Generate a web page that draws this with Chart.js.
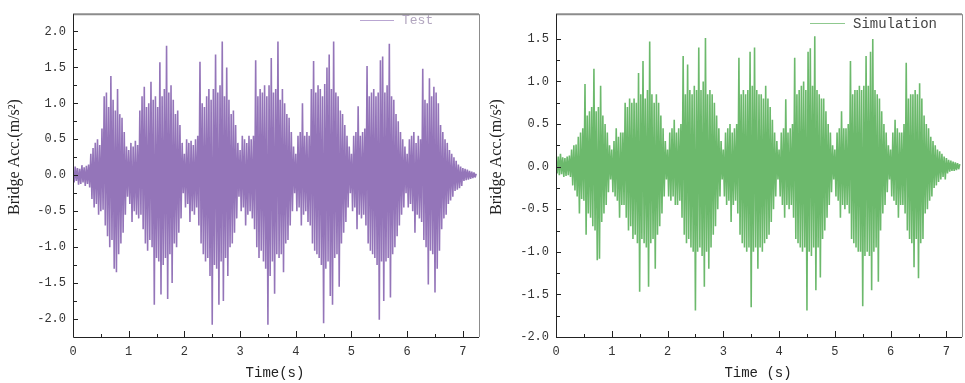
<!DOCTYPE html>
<html>
<head>
<meta charset="utf-8">
<script src="https://cdn.jsdelivr.net/npm/chart.js@4"></script>
<style>
    html, body { margin: 0; padding: 0; background: #fff; }
    #wrap { position: relative; width: 965px; height: 383px; overflow: hidden; }
    canvas { position: absolute; top: 0; }
</style>
</head>
<body>
<div id="wrap">
    <canvas id="testChart" width="482" height="383" style="left:0px"></canvas>
    <canvas id="simChart" width="483" height="383" style="left:482px"></canvas>
</div>
<script>
// sampling step of both records (s)
const dt = 0.02;

const xTicks = [0, 1, 2, 3, 4, 5, 6, 7];
const yTicksTest = [-2.0, -1.5, -1.0, -0.5, 0.0, 0.5, 1.0, 1.5, 2.0];
const yTicksSim = [-2.0, -1.5, -1.0, -0.5, 0.0, 0.5, 1.0, 1.5];

// measured bridge acceleration, one row = 0.2 s
const testAcc = [
    0.08,-0.10,0.12,-0.08,0.10,-0.13,0.09,-0.12,0.14,-0.10,
    0.11,-0.15,0.13,-0.12,0.15,-0.17,0.30,-0.33,0.38,-0.45,
    0.45,-0.40,0.50,-0.55,0.42,-0.50,0.65,-0.48,1.10,-0.70,
    1.15,-0.85,0.95,-1.00,1.38,-0.90,1.05,-1.30,0.90,-1.35,
    1.20,-1.10,0.85,-0.95,0.80,-0.80,0.60,-0.55,0.40,-0.30,
    0.35,-0.40,0.45,-0.65,0.40,-0.50,0.48,-0.55,0.42,-0.60,
    0.90,-0.55,1.10,-0.75,1.23,-0.95,0.95,-1.05,1.00,-0.90,
    1.30,-1.00,1.05,-1.80,1.10,-1.15,0.95,-1.20,1.57,-1.66,
    1.10,-1.25,1.20,-1.15,1.80,-1.72,1.15,-1.10,1.25,-1.50,
    1.05,-0.95,0.85,-1.00,0.90,-0.80,0.70,-0.60,0.45,-0.25,
    0.30,-0.45,0.50,-0.40,0.45,-0.65,0.48,-0.50,0.42,-0.55,
    0.50,-0.45,0.55,-0.70,1.58,-0.95,1.00,-1.10,0.95,-1.20,
    1.10,-1.15,1.20,-1.40,1.05,-2.08,1.20,-1.25,1.68,-1.30,
    1.15,-1.80,1.25,-1.20,1.86,-1.75,1.10,-1.15,1.50,-1.40,
    1.05,-1.00,0.85,-0.95,0.90,-0.80,0.70,-0.60,0.45,-0.30,
    0.35,-0.50,0.55,-0.45,0.50,-0.70,0.45,-0.55,0.55,-0.50,
    0.50,-0.60,0.55,-0.75,1.60,-1.00,1.10,-1.15,1.20,-1.05,
    1.15,-1.20,1.25,-1.30,1.10,-2.08,1.25,-1.40,1.63,-1.20,
    1.15,-1.65,1.20,-1.10,1.86,-1.15,1.05,-1.10,1.20,-1.35,
    1.00,-0.95,0.85,-0.90,0.80,-0.70,0.60,-0.50,0.40,-0.25,
    0.30,-0.50,0.55,-0.45,0.60,-0.70,1.00,-0.55,0.55,-0.50,
    0.60,-0.65,0.55,-0.70,1.20,-0.95,1.59,-1.05,1.15,-1.10,
    1.25,-1.15,1.20,-1.25,1.10,-2.06,1.27,-1.30,1.50,-1.20,
    1.68,-1.68,1.20,-1.80,1.86,-1.15,1.15,-1.10,1.10,-1.55,
    0.90,-0.95,0.85,-0.80,0.70,-0.65,0.55,-0.45,0.40,-0.25,
    0.30,-0.50,0.55,-0.45,0.60,-0.75,0.96,-0.55,0.55,-0.60,
    0.60,-0.55,0.65,-0.70,1.52,-0.95,1.10,-1.05,1.15,-1.10,
    1.20,-1.15,1.10,-1.25,1.15,-2.01,1.60,-1.20,1.65,-1.75,
    1.15,-1.20,1.25,-1.15,1.83,-1.70,1.10,-1.10,1.05,-1.00,
    0.85,-0.85,0.75,-0.70,0.60,-0.55,0.50,-0.45,0.40,-0.25,
    0.30,-0.45,0.50,-0.40,0.55,-0.50,0.60,-0.80,0.45,-0.55,
    0.55,-0.60,0.50,-0.65,1.48,-0.90,1.05,-1.00,1.00,-1.52,
    1.35,-1.05,1.10,-1.10,1.23,-1.63,1.15,-1.30,1.00,-1.05,
    0.70,-0.75,0.60,-0.60,0.50,-0.55,0.45,-0.40,0.35,-0.35,
    0.30,-0.30,0.25,-0.22,0.20,-0.20,0.15,-0.18,0.12,-0.15,
    0.10,-0.08,0.09,-0.07,0.08,-0.06,0.06,-0.05,0.05,-0.04,
    0.04,-0.03,0.02
];

// simulated bridge acceleration, one row = 0.2 s
const simAcc = [
    0.10,-0.08,0.12,-0.10,0.15,-0.09,0.11,-0.12,0.10,-0.11,
    0.12,-0.10,0.13,-0.12,0.20,-0.22,0.25,-0.28,0.26,-0.35,
    0.35,-0.55,0.40,-0.38,0.45,-0.40,0.97,-0.80,0.60,-0.55,
    0.65,-0.60,0.70,-0.70,1.15,-0.75,0.65,-1.10,0.70,-1.08,
    0.95,-0.65,0.60,-0.55,0.50,-0.45,0.40,-0.30,0.25,-0.15,
    0.20,-0.30,0.30,-0.35,0.45,-0.40,0.35,-0.60,0.40,-0.45,
    0.40,-0.45,0.75,-0.60,0.70,-0.75,0.80,-0.70,0.75,-0.85,
    0.80,-0.80,0.75,-0.90,1.10,-1.47,0.85,-0.85,1.24,-0.90,
    0.80,-0.95,0.90,-1.41,1.47,-0.90,0.85,-0.85,0.75,-1.20,
    0.85,-0.80,0.75,-0.70,0.60,-0.55,0.45,-0.35,0.30,-0.15,
    0.20,-0.35,0.40,-0.40,0.45,-0.35,0.55,-0.45,0.40,-0.45,
    0.45,-0.40,0.50,-0.60,1.30,-0.80,0.85,-0.90,1.20,-0.85,
    0.90,-0.95,0.85,-1.00,0.95,-1.69,0.90,-1.00,1.40,-0.95,
    0.90,-1.05,1.00,-1.41,1.51,-1.00,0.85,-1.20,0.90,-0.95,
    0.85,-0.80,0.75,-0.70,0.60,-0.50,0.45,-0.35,0.30,-0.15,
    0.20,-0.35,0.40,-0.45,0.45,-0.40,0.50,-0.65,0.40,-0.45,
    0.45,-0.40,0.50,-0.55,1.28,-0.80,0.85,-0.90,0.90,-0.95,
    0.85,-1.00,0.90,-0.95,1.35,-1.65,0.95,-1.00,1.40,-0.95,
    0.90,-1.20,0.85,-0.95,0.85,-1.00,0.80,-0.90,0.95,-0.85,
    0.80,-0.80,0.70,-0.65,0.55,-0.50,0.40,-0.35,0.30,-0.15,
    0.20,-0.35,0.40,-0.45,0.45,-0.60,0.79,-0.45,0.40,-0.50,
    0.45,-0.45,0.50,-0.60,1.28,-0.85,0.85,-0.90,0.90,-0.95,
    0.95,-1.00,1.00,-0.95,0.90,-1.69,1.35,-1.00,1.39,-1.05,
    0.95,-0.95,1.53,-1.45,0.90,-0.95,0.85,-1.30,0.80,-0.85,
    0.80,-0.75,0.65,-0.60,0.50,-0.45,0.40,-0.30,0.25,-0.15,
    0.20,-0.35,0.40,-0.40,0.45,-0.60,0.65,-0.45,0.45,-0.50,
    0.45,-0.45,0.50,-0.55,1.24,-0.85,0.85,-0.90,0.90,-0.95,
    0.90,-1.00,0.95,-1.00,0.90,-1.64,0.95,-1.05,1.30,-1.00,
    0.95,-1.05,1.35,-1.45,1.50,-1.00,0.90,-0.95,0.85,-1.35,
    0.80,-0.75,0.65,-0.55,0.50,-0.45,0.40,-0.30,0.25,-0.15,
    0.20,-0.35,0.40,-0.40,0.55,-0.45,0.45,-0.60,0.40,-0.45,
    0.40,-0.45,0.50,-0.55,1.22,-0.75,0.80,-0.85,0.85,-0.90,
    0.85,-1.18,0.90,-0.85,0.85,-1.31,0.98,-0.90,0.80,-0.85,
    0.60,-0.55,0.50,-0.50,0.45,-0.40,0.35,-0.35,0.30,-0.25,
    0.25,-0.22,0.20,-0.18,0.18,-0.15,0.15,-0.12,0.12,-0.15,
    0.10,-0.08,0.08,-0.06,0.07,-0.05,0.06,-0.05,0.05,-0.04,
    0.04,-0.03,0.03
];

const monoFont = "'Liberation Mono', 'DejaVu Sans Mono', monospace";
const serifFont = "'Liberation Serif', 'DejaVu Serif', serif";

function midpoints(arr) {
    const out = [];
    for (let i = 1; i < arr.length; i++) out.push((arr[i - 1] + arr[i]) / 2);
    return out;
}

// frame, inward ticks, axis titles and legend
const decor = {
    id: "decor",
    afterDraw(chart, args, o) {
        const { ctx, chartArea: a, scales } = chart;
        const x = scales.x;
        const y = scales.y;
        ctx.save();

        ctx.strokeStyle = "#8c8c8c";
        ctx.lineWidth = 2;
        ctx.beginPath();
        ctx.moveTo(a.left, a.top);
        ctx.lineTo(a.right, a.top);
        ctx.stroke();
        ctx.lineWidth = 1;
        ctx.beginPath();
        ctx.moveTo(a.right + 0.5, a.top);
        ctx.lineTo(a.right + 0.5, a.bottom);
        ctx.stroke();

        ctx.strokeStyle = "#222";
        ctx.lineWidth = 1;
        ctx.beginPath();
        ctx.moveTo(a.left + 0.5, a.top);
        ctx.lineTo(a.left + 0.5, a.bottom + 0.5);
        ctx.lineTo(a.right, a.bottom + 0.5);
        ctx.stroke();

        ctx.beginPath();
        xTicks.forEach((v) => {
            const px = Math.round(x.getPixelForValue(v)) + 0.5;
            ctx.moveTo(px, a.bottom);
            ctx.lineTo(px, a.bottom - 6);
        });
        midpoints(xTicks).forEach((v) => {
            const px = Math.round(x.getPixelForValue(v)) + 0.5;
            ctx.moveTo(px, a.bottom);
            ctx.lineTo(px, a.bottom - 3);
        });
        o.yTicks.forEach((v) => {
            const py = Math.round(y.getPixelForValue(v)) + 0.5;
            ctx.moveTo(a.left, py);
            ctx.lineTo(a.left + 5, py);
        });
        midpoints(o.yTicks).forEach((v) => {
            const py = Math.round(y.getPixelForValue(v)) + 0.5;
            ctx.moveTo(a.left, py);
            ctx.lineTo(a.left + 4, py);
        });
        ctx.stroke();

        // axis titles
        ctx.fillStyle = "#222";
        ctx.font = "14px " + monoFont;
        ctx.textAlign = "center";
        ctx.textBaseline = "middle";
        ctx.fillText(o.xTitle, o.xTitleX, 373);

        ctx.save();
        ctx.translate(15, 157);
        ctx.rotate(-Math.PI / 2);
        ctx.font = "16px " + serifFont;
        ctx.fillText("Bridge Acc.(m/s\u00B2)", 0, 0);
        ctx.restore();

        // legend
        const lg = o.legend;
        ctx.strokeStyle = lg.lineColor;
        ctx.lineWidth = 1;
        ctx.beginPath();
        ctx.moveTo(lg.x1, lg.y + 0.5);
        ctx.lineTo(lg.x2, lg.y + 0.5);
        ctx.stroke();
        ctx.fillStyle = lg.textColor;
        ctx.font = lg.size + "px " + monoFont;
        ctx.textAlign = "left";
        ctx.fillText(lg.text, lg.x2 + 8, lg.y + 1);

        ctx.restore();
    },
};

function makeChart(canvas, values, cfg) {
    const points = values.map((v, i) => ({ x: i * dt, y: v }));
    return new Chart(canvas, {
        type: "line",
        data: {
            datasets: [
                {
                    label: cfg.legend.text,
                    data: points,
                    borderColor: cfg.color,
                    borderWidth: 1.6,
                    borderJoinStyle: "bevel",
                    pointRadius: 0,
                    tension: 0,
                    fill: false,
                },
            ],
        },
        options: {
            responsive: false,
            animation: false,
            events: [],
            layout: { padding: { top: 5, right: cfg.padRight, left: 0, bottom: 0 } },
            plugins: {
                legend: { display: false },
                tooltip: { enabled: false },
                decor: {
                    yTicks: cfg.yTicks,
                    xTitle: cfg.xTitle,
                    xTitleX: cfg.xTitleX,
                    legend: cfg.legend,
                },
            },
            scales: {
                x: {
                    type: "linear",
                    min: 0,
                    max: cfg.xMax,
                    grid: { display: false, drawTicks: false },
                    border: { display: false },
                    ticks: {
                        color: "#333",
                        font: { family: monoFont, size: 12 },
                        padding: 8,
                        maxRotation: 0,
                    },
                    afterBuildTicks: (s) => {
                        s.ticks = xTicks.map((v) => ({ value: v }));
                    },
                    afterFit: (s) => {
                        s.height = 46;
                    },
                },
                y: {
                    min: cfg.yMin,
                    max: cfg.yMax,
                    grid: { display: false, drawTicks: false },
                    border: { display: false },
                    ticks: {
                        color: "#333",
                        font: { family: monoFont, size: 12 },
                        padding: 7,
                        callback: (v) => Number(v).toFixed(1),
                    },
                    afterBuildTicks: (s) => {
                        s.ticks = cfg.yTicks.map((v) => ({ value: v }));
                    },
                    afterFit: (s) => {
                        s.width = cfg.yWidth;
                    },
                },
            },
        },
        plugins: [decor],
    });
}

makeChart(document.getElementById("testChart"), testAcc, {
    color: "#9475b9",
    yMin: -2.25,
    yMax: 2.24,
    yTicks: yTicksTest,
    xMax: 7.29,
    yWidth: 73,
    padRight: 3,
    xTitle: "Time(s)",
    xTitleX: 275,
    legend: { text: "Test", x1: 360, x2: 394, y: 20, size: 13, lineColor: "#b9a6d2", textColor: "#b2a6bf" },
});

makeChart(document.getElementById("simChart"), simAcc, {
    color: "#6cb96c",
    yMin: -2.0,
    yMax: 1.79,
    yTicks: yTicksSim,
    xMax: 7.28,
    yWidth: 74,
    padRight: 3,
    xTitle: "Time (s)",
    xTitleX: 276,
    legend: { text: "Simulation", x1: 328, x2: 363, y: 23, size: 14, lineColor: "#8fc98f", textColor: "#444" },
});
</script>
</body>
</html>
